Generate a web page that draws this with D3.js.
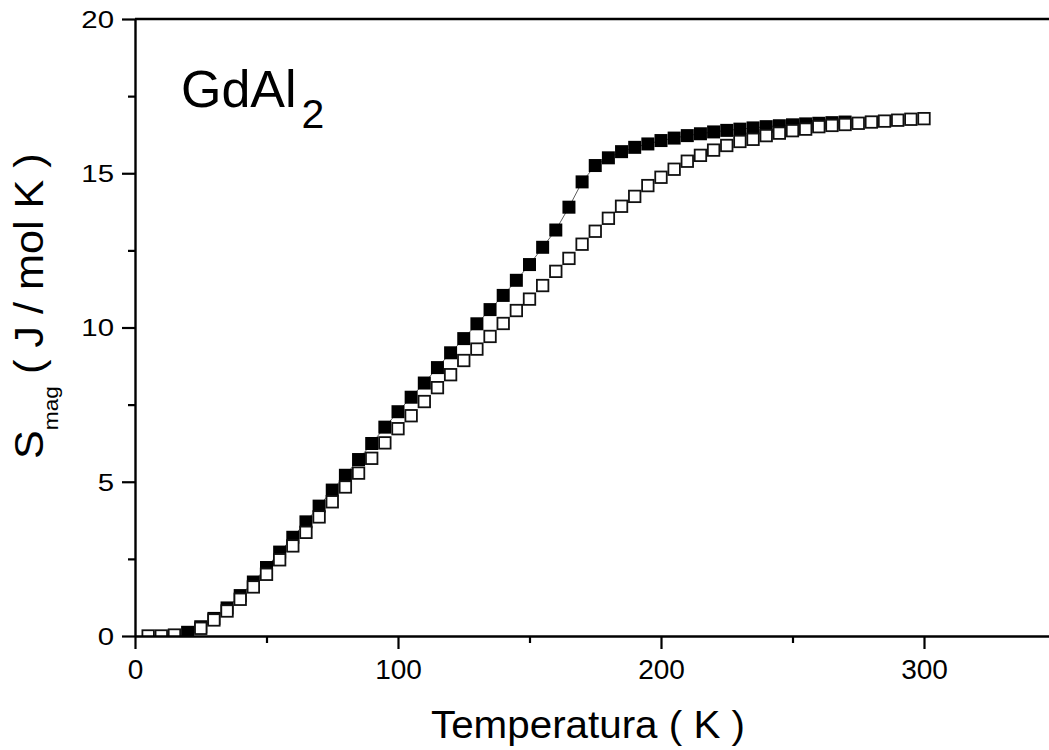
<!DOCTYPE html>
<html>
<head>
<meta charset="utf-8">
<script src="https://cdn.jsdelivr.net/npm/d3@7"></script>
<style>
  body { margin: 0; background: #fff; }
  svg { display: block; font-family: "Liberation Sans", Arial, sans-serif; }
</style>
</head>
<body>
<script>
// open squares
const tempOpen = [5, 10, 15, 25, 30, 35, 40, 45, 50, 55, 60, 65, 70, 75, 80, 85, 90, 95, 100,
  105, 110, 115, 120, 125, 130, 135, 140, 145, 150, 155, 160, 165, 170, 175, 180, 185, 190, 195, 200,
  205, 210, 215, 220, 225, 230, 235, 240, 245, 250, 255, 260, 265, 270, 275, 280, 285, 290, 295, 300];
const sOpen = [0.0, 0.0, 0.03, 0.25, 0.52, 0.81, 1.19, 1.59, 2.0, 2.47, 2.92, 3.36, 3.86, 4.35, 4.83, 5.28, 5.76, 6.26, 6.72,
  7.14, 7.6, 8.05, 8.47, 8.93, 9.3, 9.71, 10.13, 10.55, 10.92, 11.36, 11.82, 12.24, 12.7, 13.12, 13.54, 13.93, 14.25, 14.6, 14.87,
  15.13, 15.39, 15.58, 15.75, 15.9, 16.03, 16.1, 16.22, 16.3, 16.38, 16.43, 16.51, 16.55, 16.58, 16.62, 16.66, 16.69, 16.72, 16.75, 16.77];

// filled squares
const tempFilled = [20, 25, 30, 35, 40, 45, 50, 55, 60, 65, 70, 75, 80, 85, 90, 95, 100,
  105, 110, 115, 120, 125, 130, 135, 140, 145, 150, 155, 160, 165, 170, 175, 180, 185, 190, 195, 200,
  205, 210, 215, 220, 225, 230, 235, 240, 245, 250, 255, 260, 265, 270];
const sFilled = [0.12, 0.3, 0.57, 0.91, 1.31, 1.75, 2.22, 2.72, 3.2, 3.7, 4.21, 4.73, 5.21, 5.72, 6.24, 6.77, 7.27,
  7.74, 8.2, 8.7, 9.18, 9.64, 10.12, 10.58, 11.04, 11.53, 12.04, 12.6, 13.16, 13.9, 14.72, 15.25, 15.5, 15.7, 15.84, 15.95, 16.06,
  16.14, 16.22, 16.28, 16.34, 16.39, 16.43, 16.47, 16.51, 16.54, 16.57, 16.6, 16.62, 16.64, 16.66];

const xTicks = [0, 100, 200, 300];
const xMinor = [50, 150, 250];
const yTicks = [0, 5, 10, 15, 20];
const yMinor = [2.5, 7.5, 12.5, 17.5];

const width = 1049, height = 750;
const margin = {top: 19, left: 135, bottom: 114};

let x = d3.scaleLinear().domain([0, 350]).range([margin.left, 1055.5]);
let y = d3.scaleLinear().domain([0, 20]).range([height - margin.bottom, margin.top]);

const svg = d3.select("body").append("svg")
  .attr("width", width)
  .attr("height", height);

svg.append("clipPath").attr("id", "plot")
  .append("rect")
  .attr("x", x(0)).attr("y", y(20))
  .attr("width", x(350) - x(0)).attr("height", y(0) - y(20));

const openData = tempOpen.map((t, i) => ({t: t, s: sOpen[i]}));
const filledData = tempFilled.map((t, i) => ({t: t, s: sFilled[i]}));

const marks = svg.append("g").attr("clip-path", "url(#plot)");

// faint line joining the filled points
marks.append("path")
  .datum(filledData)
  .attr("fill", "none")
  .attr("stroke", "#333")
  .attr("stroke-width", 0.8)
  .attr("d", d3.line().x(d => x(d.t)).y(d => y(d.s)));

let fs = 13;
marks.append("g")
  .selectAll("rect")
  .data(filledData)
  .join("rect")
    .attr("x", d => x(d.t) - fs / 2)
    .attr("y", d => y(d.s) - fs / 2)
    .attr("width", fs)
    .attr("height", fs)
    .attr("fill", "#000");

let os = 11.5;
marks.append("g")
  .selectAll("rect")
  .data(openData)
  .join("rect")
    .attr("x", d => x(d.t) - os / 2)
    .attr("y", d => y(d.s) - os / 2)
    .attr("width", os)
    .attr("height", os)
    .attr("fill", "#fff")
    .attr("stroke", "#111")
    .attr("stroke-width", 1.8);

// axes
let xAxis = g => g
  .attr("transform", `translate(0,${y(0)})`)
  .call(d3.axisBottom(x).tickValues(xTicks).tickSize(13).tickPadding(10).tickSizeOuter(0))
  .call(g => g.select(".domain").attr("stroke-width", 2.4))
  .call(g => g.selectAll(".tick line").attr("stroke-width", 2.2))
  .call(g => g.selectAll(".tick text").attr("font-size", 28).attr("fill", "#000"));

let xAxisMinor = g => g
  .attr("transform", `translate(0,${y(0)})`)
  .call(d3.axisBottom(x).tickValues(xMinor).tickSize(7).tickFormat("").tickSizeOuter(0))
  .call(g => g.select(".domain").remove())
  .call(g => g.selectAll(".tick line").attr("stroke-width", 2.2));

let yAxis = g => g
  .attr("transform", `translate(${x(0)},0)`)
  .call(d3.axisLeft(y).tickValues(yTicks).tickSize(13).tickSizeOuter(0))
  .call(g => g.select(".domain").attr("stroke-width", 2.4))
  .call(g => g.selectAll(".tick line").attr("stroke-width", 2.2))
  .call(g => g.selectAll(".tick text")
      .attr("font-size", 23.5)
      .attr("fill", "#000")
      .attr("transform", "scale(1.25,1)")
      .attr("x", -21 / 1.25)
      .attr("dy", "0.36em"));

let yAxisMinor = g => g
  .attr("transform", `translate(${x(0)},0)`)
  .call(d3.axisLeft(y).tickValues(yMinor).tickSize(7).tickFormat("").tickSizeOuter(0))
  .call(g => g.select(".domain").remove())
  .call(g => g.selectAll(".tick line").attr("stroke-width", 2.2));

svg.append("g").call(xAxisMinor);
svg.append("g").call(yAxisMinor);
svg.append("g").call(xAxis);
svg.append("g").call(yAxis);

// top frame line
svg.append("line")
  .attr("x1", x(0)).attr("x2", width)
  .attr("y1", y(20)).attr("y2", y(20))
  .attr("stroke", "#000").attr("stroke-width", 2.4);

// titles
svg.append("text")
  .attr("x", 431)
  .attr("y", 738)
  .attr("font-size", 38)
  .attr("textLength", 314)
  .attr("lengthAdjust", "spacingAndGlyphs")
  .text("Temperatura ( K )");

let yTitle = svg.append("text")
  .attr("transform", "translate(43,459) rotate(-90) scale(1.08,1)")
  .attr("font-size", 40);
yTitle.append("tspan").text("S");
yTitle.append("tspan").attr("font-size", 21).attr("dy", 14.6).text("mag");
yTitle.append("tspan").attr("dy", -14.6).text("  ( J / mol K )");

let label = svg.append("text")
  .attr("x", 181)
  .attr("y", 107)
  .attr("font-size", 52);
label.append("tspan").text("GdAl");
label.append("tspan").attr("font-size", 41).attr("dx", 5).attr("dy", 21).text("2");
</script>
</body>
</html>
